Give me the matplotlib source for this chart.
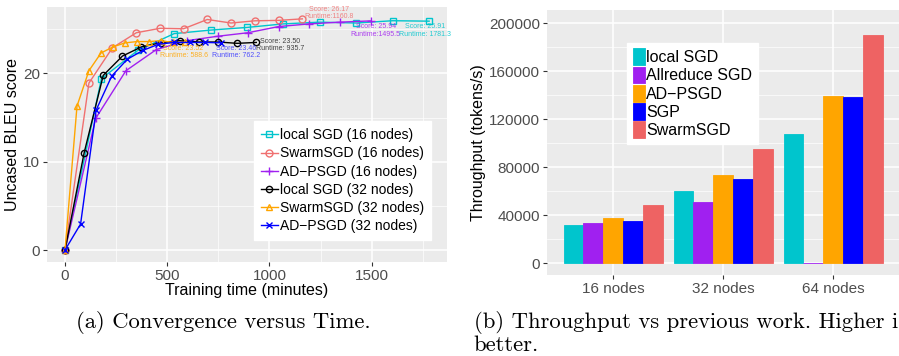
import matplotlib.pyplot as plt
import numpy as np

# convergence data (minutes, BLEU)
loc16_t = [0, 178, 356, 534, 712, 890, 1068, 1246, 1424, 1603, 1781.3]
loc16_s = [0, 19.4, 22.6, 24.5, 24.9, 25.2, 25.6, 25.8, 25.7, 25.96, 25.91]
swarm16_t = [0, 117, 232, 349, 465, 580, 696, 812, 929, 1045, 1160.8]
swarm16_s = [0, 18.9, 22.9, 24.6, 25.1, 25.05, 26.1, 25.7, 25.95, 26.0, 26.17]
ad16_t = [0, 150, 298, 447, 597, 746, 895, 1045, 1195, 1345, 1495.5]
ad16_s = [0, 14.9, 20.3, 22.7, 23.7, 24.2, 24.6, 25.3, 25.6, 25.8, 25.94]
loc32_t = [0, 93.6, 187, 281, 374, 468, 561, 655, 749, 842, 935.7]
loc32_s = [0, 11.0, 19.77, 21.96, 23.0, 23.47, 23.7, 23.55, 23.55, 23.4, 23.50]
swarm32_t = [0, 58.7, 117, 176, 235, 293.5, 352, 411, 470, 529, 588.6]
swarm32_s = [0, 16.3, 20.3, 22.3, 23.0, 23.45, 23.6, 23.6, 23.7, 23.5, 23.52]
ad32_t = [0, 76.2, 152.4, 228.7, 304.9, 381.1, 457.3, 533.5, 609.8, 686, 762.2]
ad32_s = [0, 2.94, 15.85, 19.7, 21.6, 22.6, 23.3, 23.5, 23.5, 23.5, 23.46]

# throughput data
groups = ['16 nodes', '32 nodes', '64 nodes']
methods = ['local SGD', 'Allreduce SGD', 'AD\u2212PSGD', 'SGP', 'SwarmSGD']
throughput = {
    'local SGD': [31900, 60300, 107800],
    'Allreduce SGD': [33600, 51100, 0],
    'AD\u2212PSGD': [37800, 73600, 139400],
    'SGP': [35300, 70300, 138600],
    'SwarmSGD': [48600, 95300, 190300],
}
bar_colors = ['#00C5CD', '#A020F0', '#FFA500', '#0000FF', '#EE6363']

plt.rcParams['font.family'] = ['Liberation Sans', 'DejaVu Sans']
bg = '#EBEBEB'
tick_col = '#4D4D4D'

fig = plt.figure(figsize=(8.99, 3.56), dpi=100)

# ---- left panel
ax = fig.add_axes([0.0523, 0.264, 0.445, 0.716])
ax.set_facecolor(bg)
series = [
    (loc16_t, loc16_s, '#00C5CD', 's', 4.5, 'local SGD (16 nodes)'),
    (swarm16_t, swarm16_s, '#F07070', 'o', 5, 'SwarmSGD (16 nodes)'),
    (ad16_t, ad16_s, '#A020F0', '+', 6, 'AD\u2212PSGD (16 nodes)'),
    (loc32_t, loc32_s, '#000000', 'o', 4.5, 'local SGD (32 nodes)'),
    (swarm32_t, swarm32_s, '#FFA500', '^', 5, 'SwarmSGD (32 nodes)'),
    (ad32_t, ad32_s, '#0000FF', 'x', 4.5, 'AD\u2212PSGD (32 nodes)'),
]
for t, s, c, m, ms, lab in series:
    ax.plot(t, s, color=c, marker=m, markersize=ms, markerfacecolor='none',
            markeredgewidth=1, linewidth=1, label=lab, zorder=3)

ax.set_xlim(-88, 1869)
ax.set_ylim(-1.36, 27.5)
ax.set_xticks([0, 500, 1000, 1500])
ax.set_yticks([0, 10, 20])
ax.set_xticks([250, 750, 1250, 1750], minor=True)
ax.set_yticks([5, 15, 25], minor=True)
ax.grid(which='major', color='white', linewidth=1.1, zorder=0)
ax.grid(which='minor', color='white', linewidth=0.5, zorder=0)
ax.set_axisbelow(True)
for sp in ax.spines.values():
    sp.set_visible(False)
ax.tick_params(which='major', length=3, color='#333333', labelsize=11, labelcolor=tick_col, pad=2)
ax.tick_params(which='minor', length=0)
ax.set_xlabel('Training time (minutes)', fontsize=11.5, labelpad=0)
ax.set_ylabel('Uncased BLEU score', fontsize=11.5, labelpad=2)

notes = [
    (1290, 26.85, 'Score: 26.17\nRuntime:1160.8', '#F07070'),
    (1520, 24.85, 'Score: 25.94\nRuntime:1495.5', '#A020F0'),
    (1760, 24.85, 'Score: 25.91\nRuntime: 1781.3', '#00C5CD'),
    (1052, 23.25, 'Score: 23.50\nRuntime: 935.7', '#222222'),
    (836, 22.4, 'Score: 23.46\nRuntime: 762.2', '#3333FF'),
    (580, 22.4, 'Score: 23.52\nRuntime: 588.6', '#FFA500'),
]
for x, y, txt, c in notes:
    ax.text(x, y, txt, color=c, fontsize=5, ha='center', va='center',
            linespacing=1.05, alpha=0.85, zorder=4)

ax.legend(loc='lower right', bbox_to_anchor=(0.961, 0.086), fontsize=10,
          frameon=True, fancybox=False, edgecolor='white', framealpha=1,
          handlelength=1.2, handletextpad=0.2, labelspacing=0.3,
          borderpad=0.5, borderaxespad=0)

# ---- right panel
ax2 = fig.add_axes([0.6085, 0.2275, 0.3915, 0.7445])
ax2.set_facecolor(bg)
x = np.arange(1, len(groups) + 1)
w = 0.9 / len(methods)
for i, m in enumerate(methods):
    ax2.bar(x - 0.45 + w * (i + 0.5), throughput[m], width=w, color=bar_colors[i],
            edgecolor=bar_colors[i], linewidth=0.6, label=m, zorder=3)
ax2.set_xlim(0.4, 3.6)
ax2.set_ylim(-9750, 211000)
ax2.set_xticks(x)
ax2.set_xticklabels(groups)
ax2.set_yticks(range(0, 200001, 40000))
ax2.set_yticks(range(20000, 200001, 40000), minor=True)
ax2.grid(which='major', color='white', linewidth=1.1, zorder=0)
ax2.grid(which='minor', axis='y', color='white', linewidth=0.5, zorder=0)
ax2.set_axisbelow(True)
for sp in ax2.spines.values():
    sp.set_visible(False)
ax2.tick_params(which='major', length=3, color='#333333', labelsize=11, labelcolor=tick_col, pad=2)
ax2.tick_params(which='minor', length=0)
ax2.set_ylabel('Throughput (tokens/s)', fontsize=11.5, labelpad=2)
ax2.legend(loc='upper left', bbox_to_anchor=(0.227, 0.876), fontsize=11.5,
           frameon=True, fancybox=False, edgecolor='white', framealpha=1,
           handlelength=0.75, handleheight=1.25, handletextpad=0.1, labelspacing=0.08,
           borderpad=0.35, borderaxespad=0)

# captions
fig.text(0.085, 0.093, '(a) Convergence versus Time.', fontsize=16.3,
         family='cmr10', va='center')
fig.text(0.527, 0.093, '(b) Throughput vs previous work. Higher is', fontsize=16.3,
         family='cmr10', va='center')
fig.text(0.527, 0.031, 'better.', fontsize=16.3, family='cmr10', va='center')

fig.savefig('out.png', dpi=100)
